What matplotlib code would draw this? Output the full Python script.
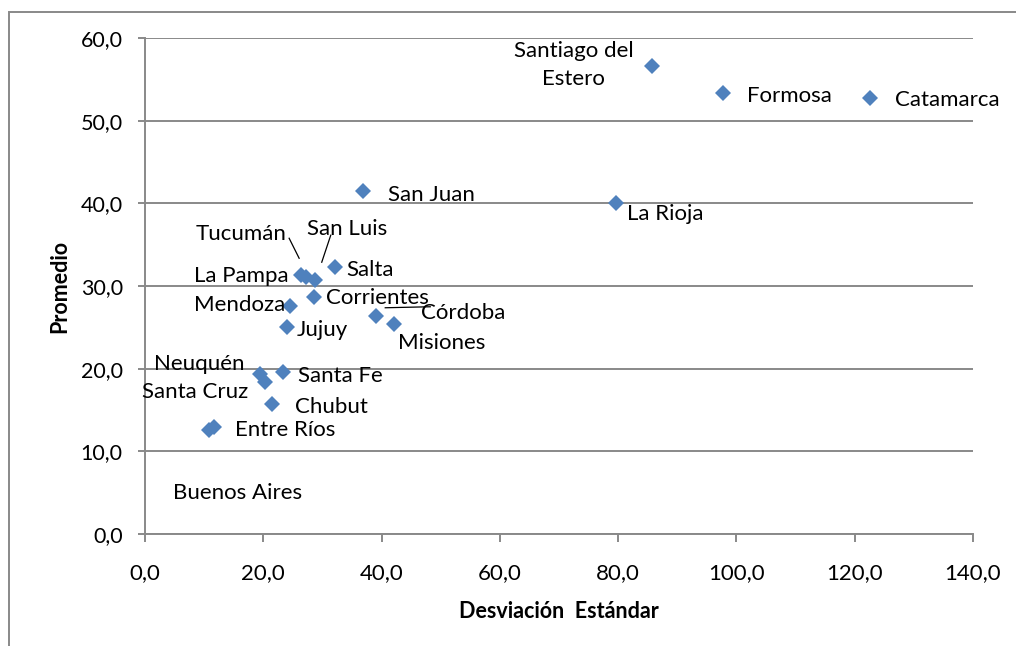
import matplotlib
matplotlib.use("Agg")
import matplotlib.pyplot as plt
from matplotlib.ticker import FuncFormatter, MultipleLocator
from matplotlib.patches import Rectangle
from matplotlib.lines import Line2D
from matplotlib.transforms import IdentityTransform

# ---- data ----
provincias = ["Santiago del\nEstero", "Formosa", "Catamarca", "San Juan", "La Rioja",
              "Salta", "Tucumán", "La Pampa", "San Luis", "Corrientes", "Mendoza",
              "Jujuy", "Córdoba", "Misiones", "Neuquén", "Santa Cruz", "Santa Fe",
              "Chubut", "Entre Ríos", "Buenos Aires"]
desviacion = [85.7, 97.7, 122.6, 36.9, 79.6,
              32.1, 26.4, 27.2, 28.7, 28.5, 24.6,
              24.0, 39.1, 42.1, 19.4, 20.3, 23.4,
              21.4, 11.6, 10.9]
promedio = [56.6, 53.3, 52.7, 41.5, 40.0,
            32.3, 31.3, 31.1, 30.7, 28.7, 27.6,
            25.1, 26.4, 25.4, 19.4, 18.4, 19.6,
            15.7, 13.0, 12.6]

x_label = "Desviación  Estándar"
y_label = "Promedio"

# ---- label layout (pixel offsets from the point; dy up positive) ----
label_layout = {
    "Santiago del\nEstero": (-78, 1, "center"),
    "Formosa": (24, -3, "left"),
    "Catamarca": (25, -2, "left"),
    "San Juan": (25, -4, "left"),
    "La Rioja": (11, -11, "left"),
    "Salta": (11, -3, "left"),
    "Tucumán": (-15, 41, "right"),
    "La Pampa": (-17, 1, "right"),
    "San Luis": (-8, 51, "left"),
    "Corrientes": (12, -1, "left"),
    "Mendoza": (-5, 1, "right"),
    "Jujuy": (10, -3, "left"),
    "Córdoba": (45, 3, "left"),
    "Misiones": (4, -19, "left"),
    "Neuquén": (-15, 10, "right"),
    "Santa Cruz": (-17, -10, "right"),
    "Santa Fe": (15, -4, "left"),
    "Chubut": (23, -3, "left"),
    "Entre Ríos": (21, -3, "left"),
    "Buenos Aires": (28, -63, "center"),
}
leaders = {
    "Tucumán": ((-12, 37), (-2, 17)),
    "San Luis": ((16, 45), (7, 18)),
    "Córdoba": ((9, 8), (54, 9)),
}

FONT = "Lato"
GRAY = "#898989"
BLUE = "#4F81BD"

fig = plt.figure(figsize=(10.16, 6.46), dpi=100)
ax = fig.add_axes([145/1016, 1 - 534/646, (973-145)/1016, (534-38)/646])

# outer chart frame (left & top visible)
fig.patches.append(Rectangle((9/1016, -0.1), 1.2, 1 - 12/646 + 0.1,
                             transform=fig.transFigure, fill=False,
                             edgecolor=GRAY, linewidth=1.4, clip_on=False))

ax.set_xlim(0, 140)
ax.set_ylim(0, 60)

ax.plot(desviacion, promedio, linestyle="none", marker="D", markersize=8,
        markerfacecolor=BLUE, markeredgewidth=0, zorder=3)

for name, xv, yv in zip(provincias, desviacion, promedio):
    dx, dy, ha = label_layout[name]
    ax.annotate(name, (xv, yv), xytext=(dx, dy), textcoords="offset pixels",
                ha=ha, va="center", fontsize=16, family=FONT, color="black",
                linespacing=1.5, multialignment="center", zorder=4)
    if name in leaders:
        (x0, y0), (x1, y1) = leaders[name]
        px, py = ax.transData.transform((xv, yv))
        fig.add_artist(Line2D([px + x0, px + x1], [py + y0, py + y1],
                              transform=IdentityTransform(), color="black",
                              linewidth=0.9))

ax.xaxis.set_major_locator(MultipleLocator(20))
ax.yaxis.set_major_locator(MultipleLocator(10))
fmt = FuncFormatter(lambda v, p: f"{v:.1f}".replace(".", ","))
ax.xaxis.set_major_formatter(fmt)
ax.yaxis.set_major_formatter(fmt)

for s in ["top", "right"]:
    ax.spines[s].set_visible(False)
for s in ["left", "bottom"]:
    ax.spines[s].set_color(GRAY)
    ax.spines[s].set_linewidth(1.4)

ax.yaxis.grid(True, color=GRAY, linewidth=1.4)
ax.set_axisbelow(True)
ax.tick_params(axis="y", direction="out", length=5, width=1.4, color=GRAY,
               pad=11, labelsize=15.5)
ax.tick_params(axis="x", direction="out", length=6, width=1.4, color=GRAY,
               pad=15, labelsize=16)
for lab in ax.get_xticklabels() + ax.get_yticklabels():
    lab.set_family(FONT)

ax.set_xlabel(x_label, family=FONT, fontweight="bold", fontsize=15.5, labelpad=12.5)
ax.set_ylabel(y_label, family=FONT, fontweight="bold", fontsize=15.5, labelpad=7.5)

fig.savefig("out.png", dpi=100)
